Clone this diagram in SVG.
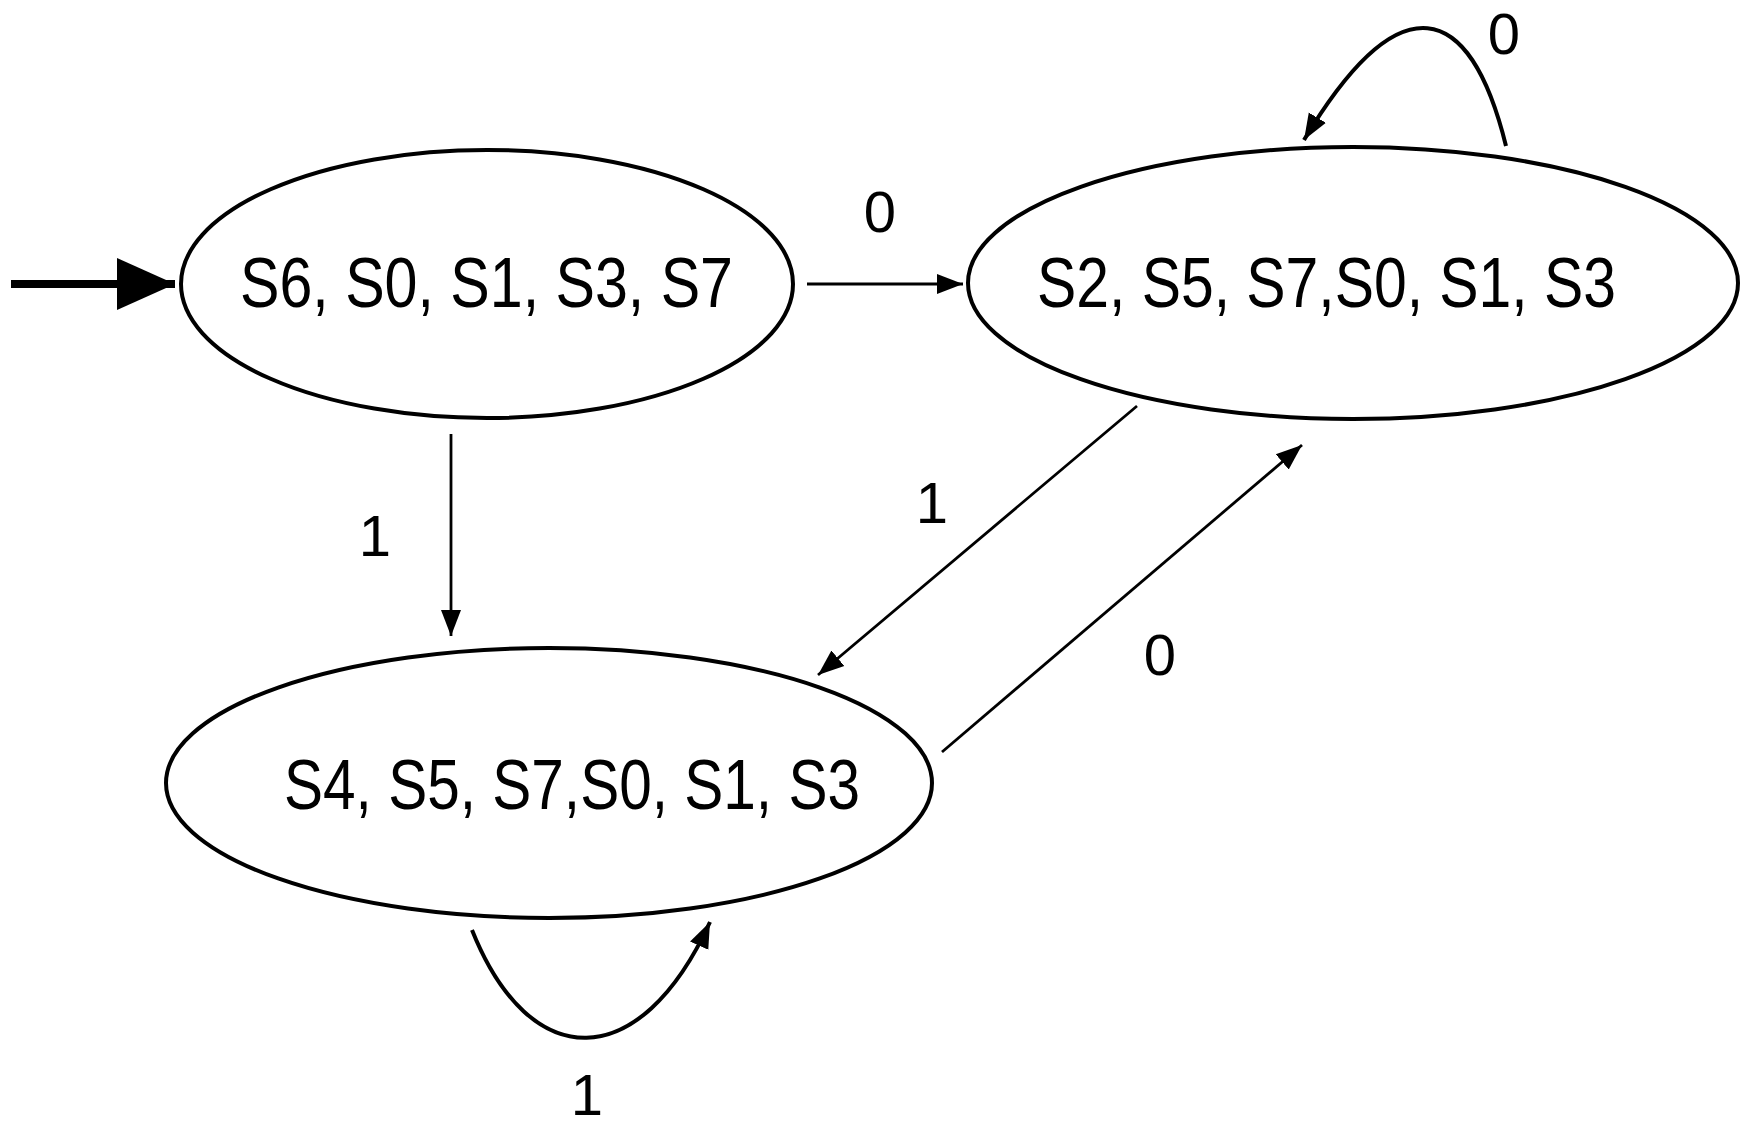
<svg xmlns="http://www.w3.org/2000/svg" width="1752" height="1130" viewBox="0 0 1752 1130">
<style>
.node{fill:#fff;stroke:#000;stroke-width:4}
.lbl{font-family:"Liberation Sans",Arial,sans-serif;font-size:71px;fill:#000}
.elbl{font-family:"Liberation Sans",Arial,sans-serif;font-size:58px;fill:#000;text-anchor:middle}
.edge{fill:none;stroke:#000;stroke-width:2.8}
.loop{fill:none;stroke:#000;stroke-width:4}
</style>
<defs>
<marker id="ah" markerUnits="userSpaceOnUse" markerWidth="28" markerHeight="22" refX="26" refY="11" orient="auto">
<path d="M0,1 L26,11 L0,21 Z" fill="#000"/>
</marker>
<marker id="ahs" markerUnits="userSpaceOnUse" markerWidth="60" markerHeight="52" refX="58" refY="26" orient="auto">
<path d="M0,0 L58,26 L0,52 Z" fill="#000"/>
</marker>
</defs>
<g id="n1">
<ellipse class="node" cx="487" cy="284" rx="306" ry="134"/>
<text class="lbl" x="240" y="307" textLength="493" lengthAdjust="spacingAndGlyphs">S6, S0, S1, S3, S7</text>
</g>
<g id="n2">
<ellipse class="node" cx="1353" cy="283" rx="385" ry="136"/>
<text class="lbl" x="1037" y="307" textLength="579" lengthAdjust="spacingAndGlyphs">S2, S5, S7,S0, S1, S3</text>
</g>
<g id="n3">
<ellipse class="node" cx="549" cy="783" rx="383" ry="135"/>
<text class="lbl" x="284" y="809" textLength="576" lengthAdjust="spacingAndGlyphs">S4, S5, S7,S0, S1, S3</text>
</g>
<g id="edges">
<path d="M11,284 L175,284" fill="none" stroke="#000" stroke-width="8" marker-end="url(#ahs)"/>
<path class="edge" d="M807,284 L963,284" marker-end="url(#ah)"/>
<path class="edge" d="M451,434 L451,636" marker-end="url(#ah)"/>
<path class="edge" d="M1137,406 L818,675" marker-end="url(#ah)"/>
<path class="edge" d="M942,752 L1302,445" marker-end="url(#ah)"/>
<path class="loop" d="M1506,146 C1470,0 1400,-20 1304,140" marker-end="url(#ah)"/>
<path class="loop" d="M472,930 C530,1075 640,1075 710,922" marker-end="url(#ah)"/>
<text class="elbl" x="880" y="232">0</text>
<text class="elbl" x="375" y="556">1</text>
<text class="elbl" x="932" y="523">1</text>
<text class="elbl" x="1160" y="675">0</text>
<text class="elbl" x="1504" y="54">0</text>
<text class="elbl" x="587" y="1115">1</text>
</g>
</svg>
